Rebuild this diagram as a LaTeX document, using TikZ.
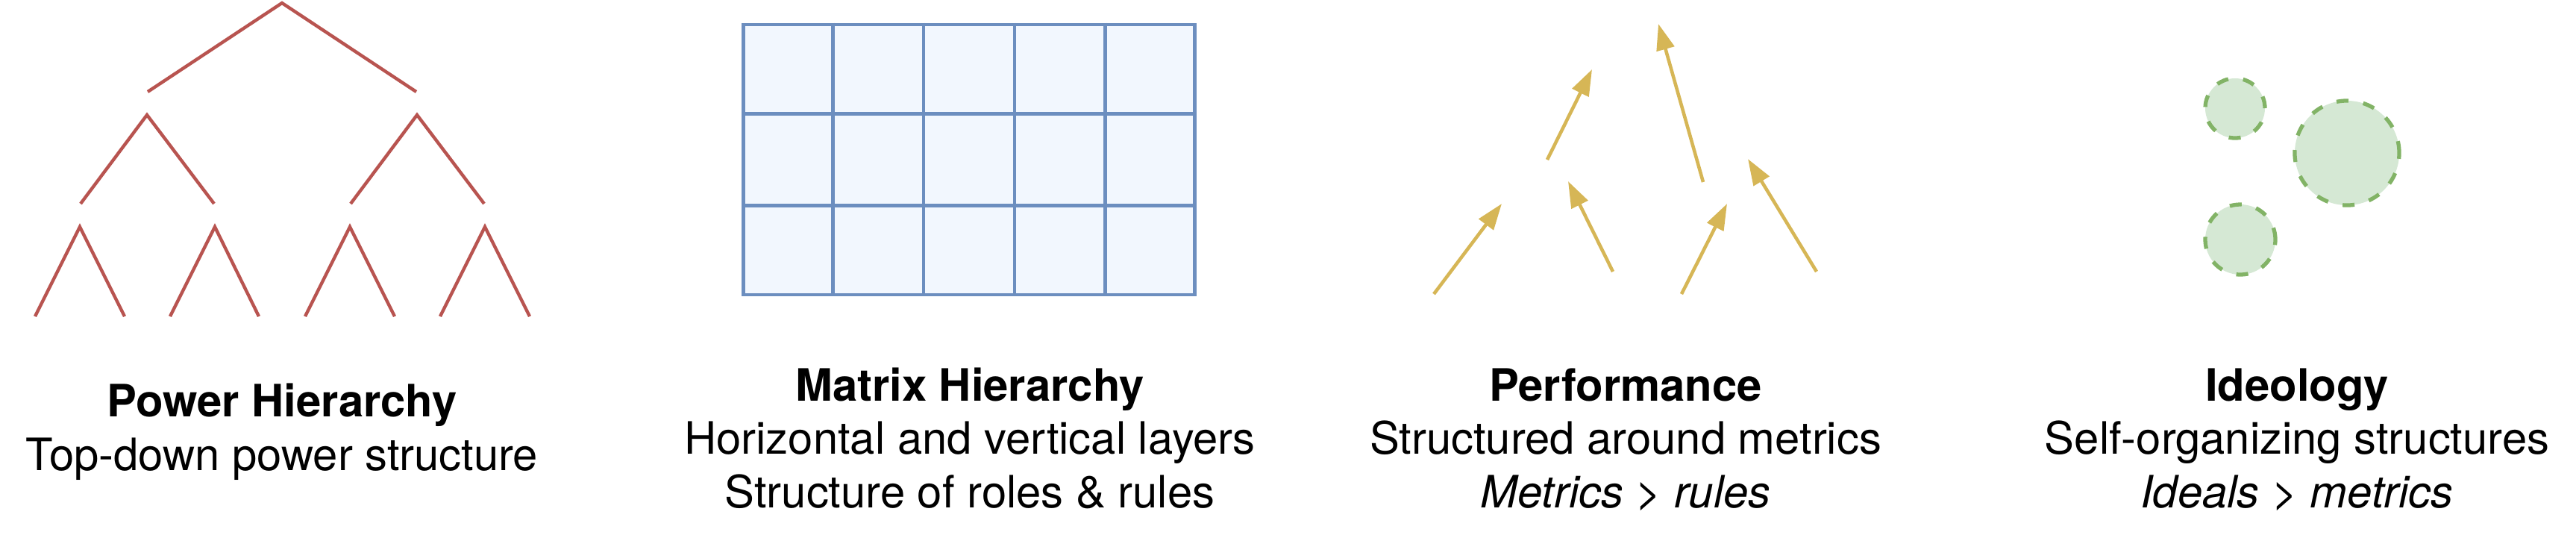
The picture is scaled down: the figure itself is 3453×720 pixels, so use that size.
\documentclass[tikz,border=0pt]{standalone}
\usepackage{fontspec}
\setmainfont{TeX Gyre Heros}
\usetikzlibrary{calc,arrows.meta}

\definecolor{treered}{HTML}{B85450}
\definecolor{gridblue}{HTML}{6C8EBF}
\definecolor{gridfill}{HTML}{F2F7FE}
\definecolor{arrowgold}{HTML}{D6B656}
\definecolor{blobgreen}{HTML}{82B366}
\definecolor{blobfill}{HTML}{D5E8D4}

\begin{document}
\begin{tikzpicture}[x=0.01cm, y=-0.01cm]
\tikzstyle{every node}=[inner sep=0pt, font=\fontsize{17pt}{20.5pt}\selectfont]
\tikzstyle{caption}=[anchor=base]
\tikzstyle{tree}=[draw=treered, line width=1.25pt]
\tikzstyle{cell}=[draw=gridblue, line width=1.35pt]
\tikzstyle{push}=[draw=arrowgold, line width=1.3pt,
                  -{Triangle[length=0.35cm, width=0.24cm]}]
\tikzstyle{blob}=[circle, draw=blobgreen, fill=blobfill, line width=1.5pt,
                  dash pattern=on 0.16cm off 0.2cm]
\useasboundingbox (0,0) rectangle (3453,720);

% power hierarchy
\coordinate (top) at (378,4);
\coordinate (L) at (198,123);
\coordinate (R) at (558,123);
\coordinate (L0) at (197,154);
\coordinate (R0) at (559,154);
\coordinate (LL) at (108,273);
\coordinate (LR) at (287,273);
\coordinate (RL) at (470,273);
\coordinate (RR) at (649,273);
\coordinate (LL0) at (107,304);
\coordinate (LR0) at (288,304);
\coordinate (RL0) at (469,304);
\coordinate (RR0) at (650,304);
\draw[tree] (L) -- (top) -- (R);
\draw[tree] (LL) -- (L0) -- (LR);
\draw[tree] (RL) -- (R0) -- (RR);
\draw[tree] (47,424) -- (LL0) -- (167,424);
\draw[tree] (228,424) -- (LR0) -- (347,424);
\draw[tree] (409,424) -- (RL0) -- (529,424);
\draw[tree] (590,424) -- (RR0) -- (710,424);

% matrix hierarchy
\node (grid) [cell, fill=gridfill, rectangle, minimum width=6.04cm,
              minimum height=3.62cm] at (1299,214) {};
\foreach \f in {0.2,0.4,0.6,0.8}
  \draw[cell] ($(grid.north west)!\f!(grid.north east)$)
           -- ($(grid.south west)!\f!(grid.south east)$);
\foreach \f in {0.3333,0.6667}
  \draw[cell] ($(grid.north west)!\f!(grid.south west)$)
           -- ($(grid.north east)!\f!(grid.south east)$);

% performance
\coordinate (p1) at (1922,394);
\coordinate (q1) at (2013,273);
\coordinate (p2) at (2074,214);
\coordinate (q2) at (2134,93);
\coordinate (p3) at (2162,364);
\coordinate (q3) at (2102,243);
\coordinate (p4) at (2283,244);
\coordinate (q4) at (2223,32);
\coordinate (p5) at (2254,394);
\coordinate (q5) at (2315,273);
\coordinate (p6) at (2435,364);
\coordinate (q6) at (2343,213);
\draw[push] (p1) -- (q1);
\draw[push] (p2) -- (q2);
\draw[push] (p3) -- (q3);
\draw[push] (p4) -- (q4);
\draw[push] (p5) -- (q5);
\draw[push] (p6) -- (q6);

% ideology
\node (blobA) [blob, minimum size=0.8cm] at (2996,145) {};
\node (blobB) [blob, minimum size=1.4cm] at (3146,205) {};
\node (blobC) [blob, minimum size=0.94cm] at (3003,321) {};

% captions
\node (powerT) [caption] at (378,558) {\bfseries Power Hierarchy};
\node (powerS) [caption] at (378,630) {Top-down power structure};
\node (matrixT) [caption] at (1300,537) {\bfseries Matrix Hierarchy};
\node (matrixS) [caption] at (1300,608) {Horizontal and vertical layers};
\node (matrixN) [caption] at (1300,680) {Structure of roles \& rules};
\node (perfT) [caption] at (2179,537) {\bfseries Performance};
\node (perfS) [caption] at (2179,608) {Structured around metrics};
\node (perfN) [caption] at (2179,680) {\itshape Metrics > rules};
\node (ideoT) [caption] at (3079,537) {\bfseries Ideology};
\node (ideoS) [caption] at (3079,608) {Self-organizing structures};
\node (ideoN) [caption] at (3079,680) {\itshape Ideals > metrics};
\end{tikzpicture}
\end{document}
